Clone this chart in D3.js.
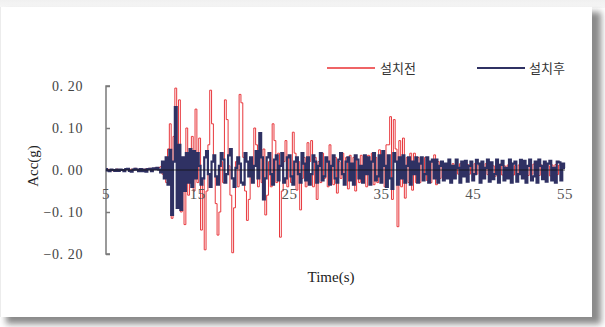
<!DOCTYPE html>
<html><head><meta charset="utf-8">
<script src="https://cdn.jsdelivr.net/npm/d3@7"></script>
<style>html,body{margin:0;padding:0;background:#fff;}svg{display:block;}</style>
</head><body>
<svg id="c" width="605" height="327"></svg>
<script>
// ---- data ----
const seriesNames = ["설치전", "설치후"];
const tStart = 5, tStep = 0.2;
const xTicks = [5, 15, 25, 35, 45, 55];
const yTicks = [-0.2, -0.1, 0, 0.1, 0.2];
// 설치전 (before) acceleration, g, every 0.2 s from 5 s
const before = [
 0,0.002,-0.001,0.001,-0.002,0.001,0.002,-0.001,0,0.001,
 -0.002,0.003,0.001,-0.002,0.002,-0.001,0.004,0.002,-0.002,0.001,
 0.002,-0.003,0.003,0.001,0.004,-0.002,0.003,0.005,0.002,0.006,
 0.008,-0.01,0.02,-0.03,0.05,0.11,-0.115,0.08,0.195,-0.06,
 0.167,-0.1,0.03,-0.13,0.10,-0.06,0.02,0.08,-0.05,0.145,
 -0.03,0.076,-0.143,-0.02,-0.19,-0.05,0.06,0.19,0.11,0.02,
 -0.08,-0.155,-0.1,0.02,-0.03,0.167,0.12,0.01,-0.06,-0.197,
 -0.09,0.02,-0.04,0.18,0.16,0.03,-0.05,-0.12,-0.07,0.02,
 -0.02,0.10,0.06,-0.04,0.03,-0.03,0.05,-0.107,-0.06,0.02,
 -0.04,0.11,0.07,-0.03,0.04,-0.16,-0.05,0.02,0.07,-0.04,
 0.03,-0.03,0.09,0.04,-0.048,0.02,-0.095,-0.02,0.03,-0.04,
 0.065,0.02,0.07,-0.04,0.03,-0.07,0.02,-0.03,0.04,-0.02,
 0.03,-0.04,0.06,0.01,-0.035,0.03,-0.055,0.02,-0.02,0.04,
 -0.03,0.03,-0.045,0.035,-0.02,0.03,-0.05,0.025,-0.03,0.035,
 -0.03,0.03,-0.04,0.035,-0.025,0.04,-0.035,0.03,-0.03,0.048,
 -0.03,0.04,-0.04,0.06,0.06,0.127,-0.07,0.12,0.05,-0.135,
 0.07,-0.04,0.076,-0.067,0.03,-0.03,0.04,-0.048,0.04,-0.03,
 0.03,-0.03,0.025,-0.02,0.03,-0.025,0.02,-0.03,0.025,0.036,
 -0.035,0.02,-0.02,0.015,-0.02,0.015,-0.015,0.018,-0.012,0.015,
 -0.015,0.012,-0.01,0.015,-0.012,0.01,-0.015,0.013,-0.01,0.012,
 -0.013,0.015,-0.01,0.012,-0.014,0.01,-0.012,0.015,-0.011,0.013,
 -0.012,0.01,-0.015,0.012,-0.01,0.014,-0.012,0.01,-0.013,0.012,
 -0.01,0.013,-0.012,0.011,-0.014,0.012,-0.01,0.013,-0.012,0.01,
 -0.013,0.012,-0.01,0.014,-0.012,0.01,-0.013,0.012,-0.01,0.013,
 -0.012,0.01,-0.014,0.012,-0.01,0.013,-0.011,0.012,-0.01,0.015,
 0.005
];
// 설치후 (after) acceleration, g, every 0.2 s from 5 s
const after = [
 0.002,-0.001,-0.003,0.001,0,-0.002,0.001,-0.002,0.001,0,
 -0.003,0.002,0.003,-0.002,-0.004,0.001,0.003,0.001,-0.003,0.002,
 -0.003,0.001,-0.004,0.002,0.003,-0.003,0.004,0.002,0.005,0.001,
 -0.006,0.02,-0.02,0.03,-0.035,0.048,-0.107,0.02,0.15,-0.09,
 0.06,-0.095,0.03,-0.05,0.04,-0.03,0.05,-0.04,0.045,-0.02,
 0.04,0.01,-0.035,-0.02,0.03,0.045,-0.01,-0.04,0.02,0.035,
 -0.015,-0.035,0.01,0.04,0.025,-0.03,-0.01,0.035,0.05,-0.02,
 -0.04,0.005,0.03,0.015,-0.03,-0.035,0.04,0.02,-0.015,0.03,
 -0.03,0.01,0.045,-0.02,0.088,0.03,-0.07,-0.02,0.03,0.04,
 -0.01,-0.035,0.025,0.035,-0.025,0.01,0.04,-0.03,-0.02,0.03,
 0.035,-0.015,-0.035,0.02,0.03,-0.01,-0.03,0.04,0.015,-0.025,
 0.03,-0.035,-0.01,0.035,0.02,-0.03,0.01,0.04,-0.025,-0.015,
 0.03,0.02,-0.035,0.01,0.035,-0.02,-0.03,0.025,0.04,-0.01,
 -0.035,0.02,0.03,-0.025,0.015,-0.035,0.035,0.025,-0.02,0.01,
 -0.03,0.035,-0.01,0.03,-0.035,0.02,0.04,-0.025,-0.015,0.035,
 -0.03,0.045,0.01,-0.04,0.035,-0.02,-0.045,0.04,0.02,-0.035,
 0.03,-0.02,0.035,-0.03,0.01,0.03,-0.035,0.02,-0.01,0.03,
 -0.03,0.015,0.03,-0.025,-0.01,0.03,-0.03,0.02,0.025,-0.02,
 0.025,-0.03,0.01,0.02,-0.025,0.015,-0.02,0.025,-0.03,0.01,
 -0.02,0.025,0.005,-0.03,0.02,-0.015,0.022,-0.028,0.01,0.02,
 -0.025,-0.01,0.024,0.015,-0.03,0.02,-0.02,0.005,0.025,-0.028,
 0.018,-0.022,-0.01,0.025,-0.03,0.012,0.022,-0.025,0.005,-0.02,
 0.025,-0.03,0.015,0.02,-0.028,-0.01,0.024,-0.02,0.022,-0.03,
 0.01,0.025,-0.025,-0.015,0.02,-0.03,0.025,0.01,-0.022,0.02,
 -0.028,0.015,0.022,-0.025,0.005,-0.03,0.02,0.018,-0.025,0.015,
 0.005
];
const colors = ["#e8383d", "#2f3163"];

// ---- drawing ----
const svg = d3.select("#c");
const W = 605, H = 327;
const defs = svg.append("defs");
const f = defs.append("filter").attr("id","sh").attr("x","-5%").attr("y","-5%").attr("width","115%").attr("height","120%");
f.append("feGaussianBlur").attr("stdDeviation", 3);
const tg = defs.append("linearGradient").attr("id","top").attr("x1",0).attr("y1",0).attr("x2",0).attr("y2",1);
tg.append("stop").attr("offset","0%").attr("stop-color","#f0f0f0");
tg.append("stop").attr("offset","100%").attr("stop-color","#f7f7f7");

svg.append("rect").attr("width",W).attr("height",H).attr("fill","#fff");
svg.append("rect").attr("width",W).attr("height",8).attr("fill","url(#top)");
svg.append("rect").attr("x",6).attr("y",12).attr("width",595).attr("height",312)
  .attr("fill","#8a8a8a").attr("filter","url(#sh)");
svg.append("rect").attr("x",1).attr("y",7).attr("width",591).attr("height",310).attr("fill","#fff");
svg.append("line").attr("x1",0.5).attr("x2",0.5).attr("y1",7).attr("y2",317).attr("stroke","#ececec");

const x = d3.scaleLinear().domain([5,55]).range([106,565]);
const y = d3.scaleLinear().domain([-0.2,0.2]).range([254,86]);
const tAt = i => tStart + i*tStep;

// y axis
const yAxis = svg.append("g").attr("transform","translate(106,0)")
  .call(d3.axisRight(y).tickValues(yTicks).tickSize(4).tickFormat(""));
yAxis.select(".domain").attr("stroke","#7a7a7a").attr("stroke-width",1.5).attr("d","M4,86H0V254H4");
yAxis.selectAll(".tick line").attr("stroke","#7a7a7a").attr("stroke-width",1.5);

const fmt = d => (d < 0 ? "\u2212" : "") + Math.abs(d).toFixed(2).replace(".", ". ");
svg.append("g").selectAll("text").data(yTicks).join("text")
  .attr("x",83).attr("y",d=>y(d)+5).attr("text-anchor","end")
  .attr("font-family","'Liberation Serif','DejaVu Serif',serif").attr("font-size",14)
  .attr("letter-spacing",0.6).attr("fill","#444").text(fmt);

// series
const lineStep = d3.line().x((d,i)=>x(tAt(i))).y(d=>y(d)).curve(d3.curveStep);
svg.append("path").datum(before).attr("d",lineStep).attr("fill","none")
  .attr("stroke",colors[0]).attr("stroke-width",1);
svg.append("path").datum(after).attr("d",lineStep).attr("fill","none")
  .attr("stroke",colors[1]).attr("stroke-width",2.2);

// zero axis line
svg.append("line").attr("x1",x(5)).attr("x2",x(55)).attr("y1",y(0)).attr("y2",y(0))
  .attr("stroke","#111").attr("stroke-width",0.8);

// x tick labels
svg.append("g").selectAll("text").data(xTicks).join("text")
  .attr("x",d=>x(d)).attr("y",199).attr("text-anchor","middle")
  .attr("font-family","'Liberation Serif','DejaVu Serif',serif").attr("font-size",15)
  .attr("letter-spacing",0.5).attr("fill","#555").text(d=>d);

// axis titles
svg.append("text").attr("x",331).attr("y",282).attr("text-anchor","middle")
  .attr("font-family","'Liberation Serif','DejaVu Serif',serif").attr("font-size",15)
  .attr("fill","#222").text("Time(s)");
svg.append("text").attr("transform","translate(38,166) rotate(-90)").attr("text-anchor","middle")
  .attr("font-family","'Liberation Serif','DejaVu Serif',serif").attr("font-size",15)
  .attr("fill","#222").text("Acc(g)");

// legend
const legX = [327, 477];
const leg = svg.append("g").selectAll("g").data(seriesNames).join("g")
  .attr("transform",(d,i)=>`translate(${legX[i]},68)`);
leg.append("line").attr("x1",0).attr("x2",48).attr("stroke",(d,i)=>i===0?"#ef6466":colors[1]).attr("stroke-width",2);
leg.append("text").attr("x",(d,i)=>i===0?53:52).attr("y",5)
  .attr("font-family","'Noto Sans CJK KR','Noto Sans',sans-serif").attr("font-size",13)
  .attr("fill","#333").text(d=>d);
</script>
</body></html>
